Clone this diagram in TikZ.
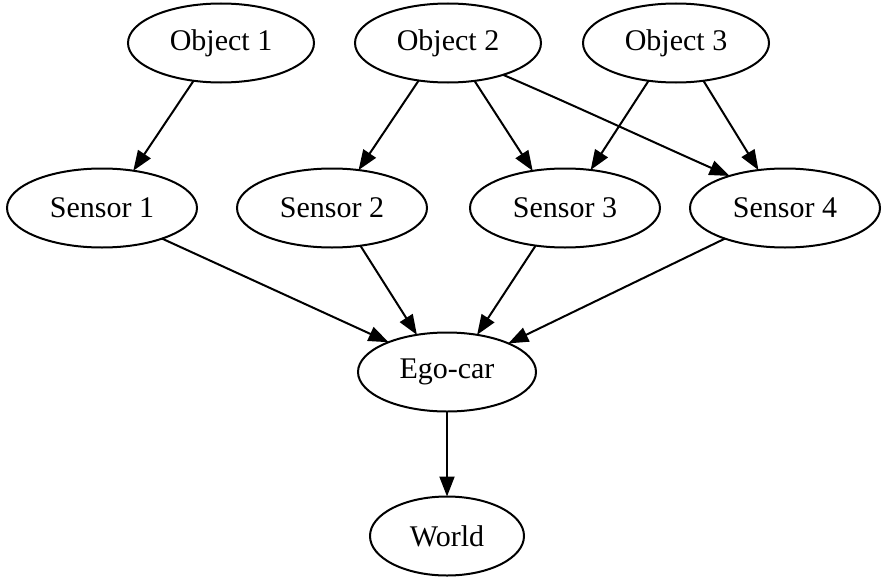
\documentclass[tikz,border=0pt]{standalone}
\usepackage{fontspec}
\setmainfont{Liberation Serif}
\usetikzlibrary{shapes.geometric,arrows.meta}
\begin{document}
\begin{tikzpicture}[x=1pt,y=-1pt,
  vertex/.style={draw,ellipse,line width=2pt,inner sep=0pt,outer sep=0pt,
    minimum height=79pt,font=\fontsize{30}{32}\selectfont},
  edge/.style={draw,line width=2pt,-{Triangle[length=20pt,width=15pt]}}]
\useasboundingbox (0,0) rectangle (882,578);
% objects
\node[vertex,minimum width=186pt] (o1) at (221,43) {Object 1};
\node[vertex,minimum width=186pt] (o2) at (448,43) {Object 2};
\node[vertex,minimum width=186pt] (o3) at (676,43) {Object 3};
% sensors
\node[vertex,minimum width=190pt] (s1) at (102,208) {Sensor 1};
\node[vertex,minimum width=190pt] (s2) at (332,208) {Sensor 2};
\node[vertex,minimum width=190pt] (s3) at (565,208) {Sensor 3};
\node[vertex,minimum width=190pt] (s4) at (785,208) {Sensor 4};
% fusion and output
\node[vertex,minimum width=178pt] (ego) at (447,372) {Ego-car};
\node[vertex,minimum width=154pt] (world) at (447,536) {World};
% object to sensor edges
\draw[edge] (o1.-126) -- (s1.50);
\draw[edge] (o2.-128) -- (s2.55);
\draw[edge] (o2.-55) -- (s3.131);
\draw[edge] (o2.-30) .. controls (580,108) and (655,143) .. (s4.150);
\draw[edge] (o3.-126) -- (s3.56);
\draw[edge] (o3.-54) -- (s4.125);
% sensor to ego-car edges
\draw[edge] (s1.-27) -- (ego.153);
\draw[edge] (s2.-53) -- (ego.129);
\draw[edge] (s3.-128) -- (ego.51);
\draw[edge] (s4.-153) -- (ego.25);
\draw[edge] (ego) -- (world);
\end{tikzpicture}
\end{document}
